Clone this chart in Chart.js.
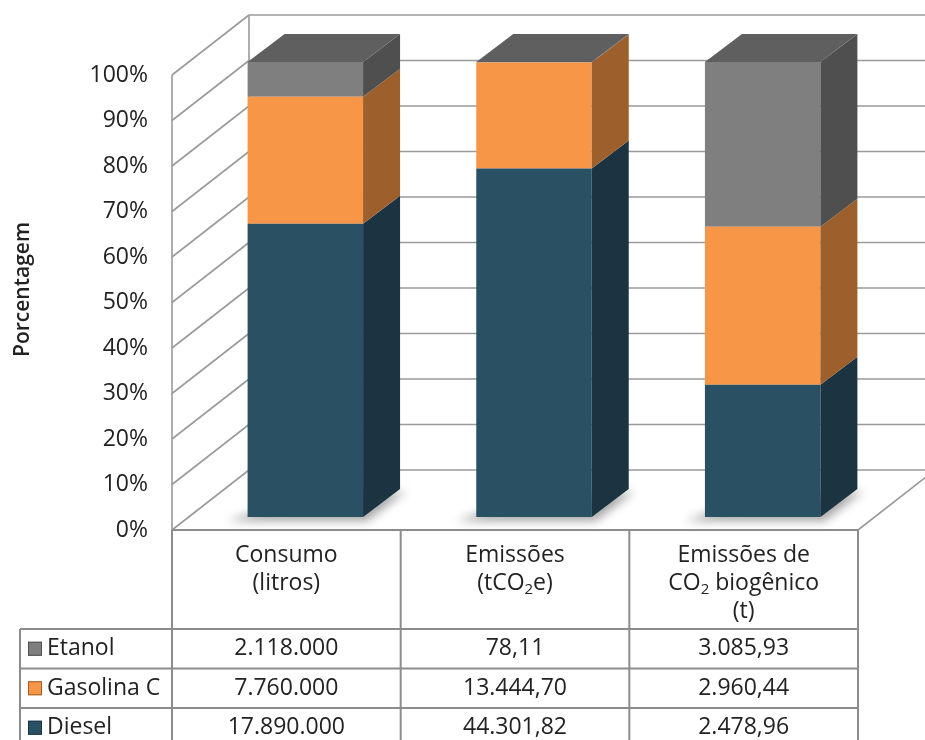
<!DOCTYPE html>
<html lang="pt-BR">
<head>
<meta charset="utf-8">
<title>Porcentagem por combustível</title>
<script src="https://cdn.jsdelivr.net/npm/chart.js@4.4.1/dist/chart.umd.min.js"></script>
<style>
  html, body { margin: 0; padding: 0; background: #fff; }
  #wrap { position: relative; width: 925px; height: 740px; }
</style>
</head>
<body>
<div id="wrap"><canvas id="chart"></canvas></div>
<script>
// categories (each header line is an entry)
const categories = [
  ['Consumo', '(litros)'],
  ['Emissões', '(tCO₂e)'],
  ['Emissões de', 'CO₂ biogênico', '(t)']
];
const decimals = [0, 2, 2];

// series values
const diesel = [17890000, 44301.82, 2478.96];
const gasolina = [7760000, 13444.70, 2960.44];
const etanol = [2118000, 78.11, 3085.93];

const yTickValues = [0, 10, 20, 30, 40, 50, 60, 70, 80, 90, 100];

const FONT = '"Open Sans", "Noto Sans", sans-serif';
const TEXT = '#222';
const LINE = '#9a9a9a';

const frontColors = { diesel: '#2a5064', gasolina: '#f79646', etanol: '#7f7f7f' };
const sideColors = { diesel: '#1c3441', gasolina: '#9d5f2b', etanol: '#4f4f4f' };
const topColors = { diesel: '#22404f', gasolina: '#b8702f', etanol: '#5f5f5f' };

// 3D offsets relative to the plane the bars sit in
const FRONT = { dx: -19, dy: 13 };
const BACK = { dx: 58, dy: -47 };
const SIDE = { dx: 37, dy: -28 };

const totals = diesel.map((v, i) => v + gasolina[i] + etanol[i]);
const pct = arr => arr.map((v, i) => v / totals[i] * 100);

function fmt(v, d) {
  const s = v.toFixed(d);
  let [int, frac] = s.split('.');
  int = int.replace(/\B(?=(\d{3})+(?!\d))/g, '.');
  return frac ? int + ',' + frac : int;
}

function line(ctx, x1, y1, x2, y2) {
  ctx.beginPath();
  ctx.moveTo(x1, y1);
  ctx.lineTo(x2, y2);
  ctx.stroke();
}

function poly(ctx, pts, color) {
  ctx.beginPath();
  ctx.moveTo(pts[0][0], pts[0][1]);
  for (let k = 1; k < pts.length; k++) ctx.lineTo(pts[k][0], pts[k][1]);
  ctx.closePath();
  ctx.fillStyle = color;
  ctx.fill();
}

// draws text with "₂" as a real lowered small 2
function drawRich(ctx, text, cx, cy, size) {
  const parts = text.split('₂');
  const big = size + 'px ' + FONT;
  const small = Math.round(size * 0.65) + 'px ' + FONT;
  let total = 0;
  parts.forEach((p, k) => {
    ctx.font = big; total += ctx.measureText(p).width;
    if (k < parts.length - 1) { ctx.font = small; total += ctx.measureText('2').width; }
  });
  let x = cx - total / 2;
  ctx.textAlign = 'left';
  ctx.textBaseline = 'middle';
  parts.forEach((p, k) => {
    ctx.font = big;
    ctx.fillText(p, x, cy);
    x += ctx.measureText(p).width;
    if (k < parts.length - 1) {
      ctx.font = small;
      ctx.fillText('2', x, cy + size * 0.28);
      x += ctx.measureText('2').width;
    }
  });
}

const keys = ['diesel', 'gasolina', 'etanol'];

const box3d = {
  id: 'box3d',
  beforeDatasetsDraw(chart) {
    const { ctx, chartArea: a, scales: { x, y } } = chart;
    const y0 = y.getPixelForValue(0), y100 = y.getPixelForValue(100);
    const fL = a.left + FRONT.dx, fR = a.right + FRONT.dx, bL = a.left + BACK.dx;
    ctx.save();
    ctx.strokeStyle = LINE;
    ctx.lineWidth = 1.6;
    yTickValues.forEach(v => {
      const py = y.getPixelForValue(v);
      line(ctx, bL, py + BACK.dy, chart.width, py + BACK.dy);
      line(ctx, fL, py + FRONT.dy, bL, py + BACK.dy);
    });
    line(ctx, fL, y100 + FRONT.dy, fL, y0 + FRONT.dy);
    line(ctx, bL, y100 + BACK.dy, bL, y0 + BACK.dy);
    line(ctx, fR, y0 + FRONT.dy, a.right + BACK.dx, y0 + BACK.dy);

    // soft shadows on the floor
    const meta = chart.getDatasetMeta(0);
    ctx.filter = 'blur(5px)';
    meta.data.forEach(bar => {
      const { x: cx, base, width } = bar.getProps(['x', 'base', 'width'], true);
      const l = cx - width / 2, r = cx + width / 2;
      poly(ctx, [[l - 20, base + 4], [r + 4, base + 4], [r + SIDE.dx + 6, base + SIDE.dy + 2], [l + 10, base - 6]], 'rgba(0,0,0,0.35)');
    });
    ctx.restore();
  },
  afterDatasetsDraw(chart) {
    const { ctx } = chart;
    const last = chart.data.datasets.length - 1;
    ctx.save();
    chart.data.datasets.forEach((ds, di) => {
      const meta = chart.getDatasetMeta(di);
      meta.data.forEach(bar => {
        const { x: cx, y: top, base, width } = bar.getProps(['x', 'y', 'base', 'width'], true);
        const l = cx - width / 2, r = cx + width / 2;
        poly(ctx, [[r, top], [r + SIDE.dx, top + SIDE.dy], [r + SIDE.dx, base + SIDE.dy], [r, base]], sideColors[keys[di]]);
        if (di === last) {
          poly(ctx, [[l, top], [l + SIDE.dx, top + SIDE.dy], [r + SIDE.dx, top + SIDE.dy], [r, top]], topColors[keys[di]]);
        }
      });
    });
    ctx.restore();
  },
  afterDraw(chart) {
    const { ctx, chartArea: a, scales: { x, y } } = chart;
    const y0 = y.getPixelForValue(0) + FRONT.dy;
    const fL = a.left + FRONT.dx, fR = a.right + FRONT.dx;
    const colW = (a.right - a.left) / categories.length;
    const edges = categories.map((c, i) => x.getPixelForValue(i) - colW / 2 + FRONT.dx);
    edges.push(fR);
    const headBottom = 629, rowH = 39.5, legL = 20;
    const rows = [
      { name: 'Etanol', key: 'etanol', values: etanol },
      { name: 'Gasolina C', key: 'gasolina', values: gasolina },
      { name: 'Diesel', key: 'diesel', values: diesel }
    ];
    ctx.save();
    ctx.strokeStyle = '#8c8c8c';
    ctx.lineWidth = 2;
    line(ctx, fL, y0, fR, y0);
    edges.forEach(ex => line(ctx, ex, y0, ex, chart.height));
    line(ctx, legL, headBottom, legL, chart.height);
    for (let r = 0; r < rows.length; r++) {
      line(ctx, legL, headBottom + r * rowH, fR, headBottom + r * rowH);
    }

    ctx.fillStyle = TEXT;
    categories.forEach((lines, i) => {
      const cx = (edges[i] + edges[i + 1]) / 2;
      lines.forEach((t, k) => drawRich(ctx, t, cx, 555 + k * 28, 23));
    });

    rows.forEach((row, r) => {
      const cy = headBottom + r * rowH + rowH / 2;
      // legend marker
      ctx.fillStyle = frontColors[row.key];
      ctx.fillRect(28, cy - 7, 14, 14);
      ctx.strokeStyle = sideColors[row.key];
      ctx.lineWidth = 1;
      ctx.strokeRect(28.5, cy - 6.5, 13, 13);
      ctx.fillStyle = TEXT;
      ctx.font = '23px ' + FONT;
      ctx.textAlign = 'left';
      ctx.textBaseline = 'middle';
      ctx.fillText(row.name, 47, cy);
      ctx.textAlign = 'center';
      row.values.forEach((v, i) => {
        ctx.fillText(fmt(v, decimals[i]), (edges[i] + edges[i + 1]) / 2, cy);
      });
    });
    ctx.restore();
  }
};

const ctx = document.getElementById('chart').getContext('2d');
new Chart(ctx, {
  type: 'bar',
  data: {
    labels: categories.map(c => c.join(' ')),
    datasets: [
      { label: 'Diesel', data: pct(diesel), backgroundColor: frontColors.diesel },
      { label: 'Gasolina C', data: pct(gasolina), backgroundColor: frontColors.gasolina },
      { label: 'Etanol', data: pct(etanol), backgroundColor: frontColors.etanol }
    ]
  },
  options: {
    responsive: true,
    maintainAspectRatio: false,
    animation: false,
    layout: { padding: { left: 0, right: 48, top: 62, bottom: 223 } },
    datasets: { bar: { barPercentage: 1, categoryPercentage: 0.505, borderWidth: 0 } },
    plugins: { legend: { display: false }, tooltip: { enabled: false } },
    scales: {
      x: { stacked: true, display: false },
      y: {
        stacked: true,
        min: 0,
        max: 100,
        afterFit(s) { s.width = 191; },
        afterBuildTicks(s) { s.ticks = yTickValues.map(v => ({ value: v })); },
        grid: { display: false, drawTicks: false },
        border: { display: false },
        ticks: {
          padding: 43,
          labelOffset: 13,
          color: TEXT,
          font: { family: FONT, size: 23 },
          callback: v => v + '%'
        },
        title: {
          display: true,
          text: 'Porcentagem',
          color: TEXT,
          font: { family: FONT, size: 21, weight: '600' },
          padding: { top: 10, bottom: 0 }
        }
      }
    }
  },
  plugins: [box3d]
});
</script>
</body>
</html>
